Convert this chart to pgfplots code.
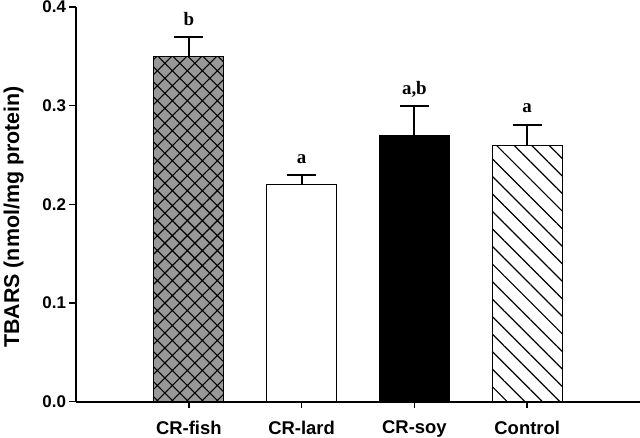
\documentclass[border=0pt]{standalone}
\usepackage{fontspec}
\setmainfont{Liberation Sans}
\newfontfamily\serifb{Liberation Serif}
\usepackage{pgfplots}
\pgfplotsset{compat=1.18}
\usetikzlibrary{patterns.meta}
\definecolor{fishgray}{RGB}{152,152,152}
\begin{document}
\begin{tikzpicture}
\path[use as bounding box] (-76bp,-36.3bp) rectangle (564bp,401.7bp);
\begin{axis}[
  at={(0,0)}, anchor=south west,
  scale only axis, width=564bp, height=394.7bp,
  xmin=-1, xmax=4, ymin=0, ymax=0.4,
  axis x line=bottom, axis y line=left,
  axis line style={-, line width=2.2bp},
  xtick={0,1,2,3},
  xticklabels={CR-fish,CR-lard,CR-soy,Control},
  ytick={0,0.1,0.2,0.3,0.4},
  tick align=outside,
  major tick length=6.5bp,
  tick style={line width=1.5bp, black},
  yticklabel style={font=\fontsize{17}{20}\selectfont\bfseries, /pgf/number format/.cd, fixed, fixed zerofill, precision=1, assume math mode=true},
  xticklabel style={font=\fontsize{18.5}{20}\selectfont\bfseries, yshift=-9bp},
  ylabel={TBARS (nmol/mg protein)},
  ylabel style={font=\fontsize{21.5}{24}\selectfont\bfseries, at={(axis description cs:-0.1105,0.468)}, anchor=center, inner sep=0pt},
  clip=false,
]
\addplot[ybar, bar shift=0pt, bar width=70bp, draw=black, line width=1.2bp, fill=fishgray,
  postaction={pattern={Hatch[angle=45, distance=10.6bp, line width=1.1bp]}},
  error bars/.cd, y dir=plus, y explicit,
  error bar style={line width=2bp, black},
  error mark options={rotate=90, mark size=14.5bp, line width=2bp, black}]
  coordinates {(0,0.35) +- (0,0.02)};
\addplot[ybar, bar shift=0pt, bar width=70bp, draw=black, line width=1.2bp, fill=white,
  error bars/.cd, y dir=plus, y explicit,
  error bar style={line width=2bp, black},
  error mark options={rotate=90, mark size=14.5bp, line width=2bp, black}]
  coordinates {(1,0.22) +- (0,0.01)};
\addplot[ybar, bar shift=0pt, bar width=70bp, draw=black, line width=1.2bp, fill=black,
  error bars/.cd, y dir=plus, y explicit,
  error bar style={line width=2bp, black},
  error mark options={rotate=90, mark size=14.5bp, line width=2bp, black}]
  coordinates {(2,0.27) +- (0,0.03)};
\addplot[ybar, bar shift=0pt, bar width=70bp, draw=black, line width=1.2bp, fill=white,
  postaction={pattern={Lines[angle=-45, distance=12.4bp, line width=1.2bp]}},
  error bars/.cd, y dir=plus, y explicit,
  error bar style={line width=2bp, black},
  error mark options={rotate=90, mark size=14.5bp, line width=2bp, black}]
  coordinates {(3,0.26) +- (0,0.02)};
\addplot[draw=none, mark=none, nodes near coords, point meta=explicit symbolic,
  nodes near coords style={anchor=base, inner sep=0pt, font=\fontsize{19}{21}\selectfont\serifb\bfseries}]
  table[meta=lab] {
x y lab
0 0.381 b
1 0.241 a
2 0.311 a,b
3 0.2935 a
};
\end{axis}
\end{tikzpicture}
\end{document}
